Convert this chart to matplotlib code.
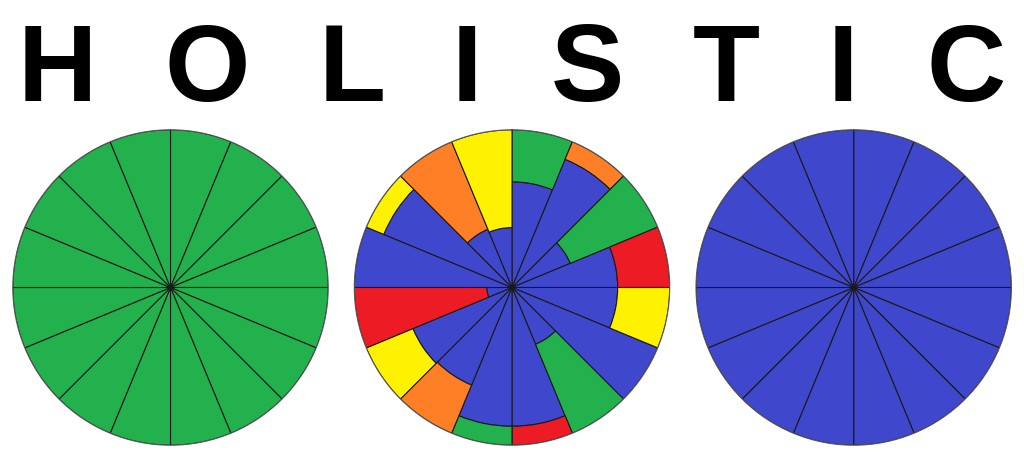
import numpy as np
import matplotlib
matplotlib.use("Agg")
import matplotlib.pyplot as plt

# colours (paint palette)
GREEN  = "#22B14C"
BLUE   = "#3F48CC"
RED    = "#ED1C24"
YELLOW = "#FFF200"
ORANGE = "#FF7F27"

title_letters = ["H", "O", "L", "I", "S", "T", "I", "C"]

n_sectors   = 16
# middle wheel, clockwise from 12 o'clock: blue share of the radius, colour of the rest
blue_level  = [0.67, 0.88, 0.40, 0.67, 0.67, 1.00, 0.39, 0.88,
               0.88, 0.67, 0.68, 0.16, 1.00, 0.88, 0.40, 0.38]
outer_color = [GREEN, ORANGE, GREEN, RED, YELLOW, None, GREEN, RED,
               GREEN, ORANGE, YELLOW, RED, None, YELLOW, ORANGE, YELLOW]

W, H = 1024, 474
fig = plt.figure(figsize=(W/100, H/100), dpi=100)

# title letters, centres measured in pixels
letter_x = [57, 207, 352, 467, 587, 726, 843, 966]
for ch, xp in zip(title_letters, letter_x):
    fig.text(xp/W, 1-101/H, ch, ha="center", va="baseline",
             fontsize=79, fontweight="bold", family=["Liberation Sans", "DejaVu Sans"])

R = 157.7
cy = 287.5
width = 2*np.pi/n_sectors
theta = (np.arange(n_sectors)+0.5)*width

def wheel(cx):
    ax = fig.add_axes([(cx-R)/W, 1-(cy+R)/H, 2*R/W, 2*R/H], projection="polar")
    ax.set_theta_zero_location("N")
    ax.set_theta_direction(-1)
    ax.set_ylim(0, 1)
    ax.grid(False)
    ax.set_xticks([])
    ax.set_yticks([])
    ax.spines["polar"].set_color("#555555")
    ax.spines["polar"].set_linewidth(0.8)
    return ax

lw = 0.8
ax1 = wheel(170.5)
ax1.bar(theta, np.ones(n_sectors), width=width, color=GREEN, edgecolor="#1a1a1a", linewidth=lw)

ax2 = wheel(512)
ax2.bar(theta, blue_level, width=width, color=BLUE, edgecolor="#1a1a1a", linewidth=lw)
for t, b, c in zip(theta, blue_level, outer_color):
    if c is None:
        continue
    ax2.bar(t, 1-b, bottom=b, width=width, color=c, edgecolor="#1a1a1a", linewidth=lw)

ax3 = wheel(853.7)
ax3.bar(theta, np.ones(n_sectors), width=width, color=BLUE, edgecolor="#1a1a1a", linewidth=lw)

fig.savefig("out.png", dpi=100)
